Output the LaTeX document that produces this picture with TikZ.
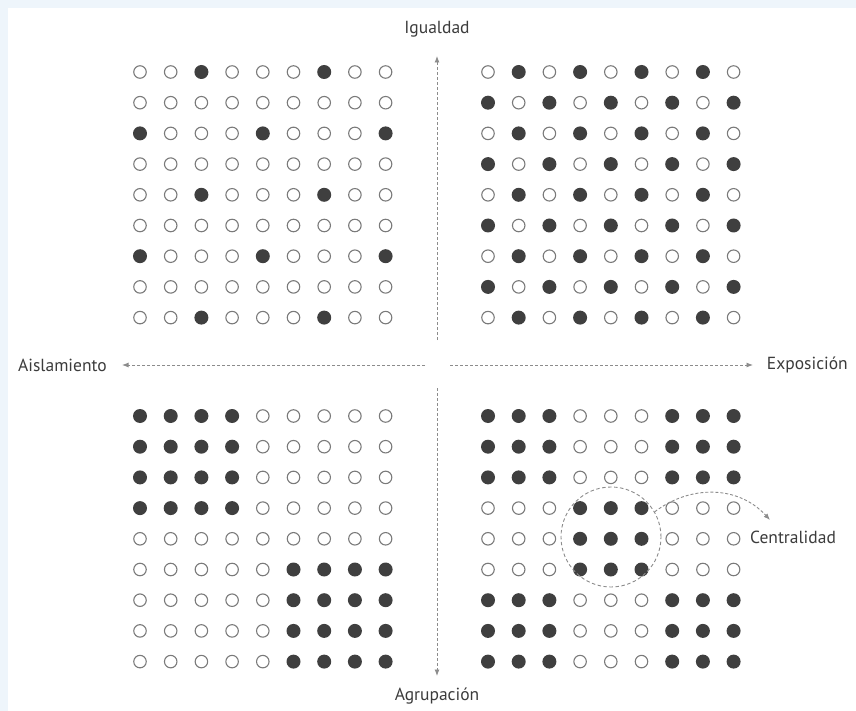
\documentclass[tikz,border=0pt]{standalone}
\usepackage{fontspec}
\setmainfont{PT Sans}
\usetikzlibrary{arrows.meta}
\definecolor{bgblue}{HTML}{EEF5FB}
\definecolor{dotdark}{HTML}{3F3F3F}
\definecolor{dotring}{HTML}{7A7A7A}
\definecolor{axisgray}{HTML}{8C8C8C}
\definecolor{txtgray}{HTML}{3C3C3C}
\tikzset{
  dot0/.style={circle, draw=dotring, line width=1.1pt, fill=white, minimum size=12.5pt, inner sep=0pt},
  dot1/.style={circle, fill=dotdark, minimum size=14pt, inner sep=0pt},
  axisline/.style={draw=axisgray, line width=0.9pt, dash pattern=on 3pt off 2pt, -{Latex[length=6.5pt,width=5pt]}},
  axislabel/.style={font=\fontsize{17.5}{20}\selectfont, text=txtgray, inner sep=0pt},
}
\newcommand\dotgrid[4]{%
  \foreach \rowlist [count=\r] in {#4} {
    \foreach \v [count=\c] in \rowlist {
      \node[dot\v] (#1-\r-\c) at ({#2+(\c-1)*30.7},{#3+(\r-1)*30.7}) {};
    }
  }
}
\begin{document}
\begin{tikzpicture}[x=1pt,y=-1pt]
\fill[bgblue] (0,0) rectangle (856,711);
\fill[white] (8,8) rectangle (856,711);
\useasboundingbox (0,0) rectangle (856,711);

% top-left: Igualdad / Aislamiento
\dotgrid{tl}{140}{72}{{0,0,1,0,0,0,1,0,0},{0,0,0,0,0,0,0,0,0},{1,0,0,0,1,0,0,0,1},{0,0,0,0,0,0,0,0,0},{0,0,1,0,0,0,1,0,0},{0,0,0,0,0,0,0,0,0},{1,0,0,0,1,0,0,0,1},{0,0,0,0,0,0,0,0,0},{0,0,1,0,0,0,1,0,0}}
% top-right: checkerboard
\dotgrid{tr}{488}{72}{{0,1,0,1,0,1,0,1,0},{1,0,1,0,1,0,1,0,1},{0,1,0,1,0,1,0,1,0},{1,0,1,0,1,0,1,0,1},{0,1,0,1,0,1,0,1,0},{1,0,1,0,1,0,1,0,1},{0,1,0,1,0,1,0,1,0},{1,0,1,0,1,0,1,0,1},{0,1,0,1,0,1,0,1,0}}
% bottom-left
\dotgrid{bl}{140}{416}{{1,1,1,1,0,0,0,0,0},{1,1,1,1,0,0,0,0,0},{1,1,1,1,0,0,0,0,0},{1,1,1,1,0,0,0,0,0},{0,0,0,0,0,0,0,0,0},{0,0,0,0,0,1,1,1,1},{0,0,0,0,0,1,1,1,1},{0,0,0,0,0,1,1,1,1},{0,0,0,0,0,1,1,1,1}}
% bottom-right
\dotgrid{br}{488}{416}{{1,1,1,0,0,0,1,1,1},{1,1,1,0,0,0,1,1,1},{1,1,1,0,0,0,1,1,1},{0,0,0,1,1,1,0,0,0},{0,0,0,1,1,1,0,0,0},{0,0,0,1,1,1,0,0,0},{1,1,1,0,0,0,1,1,1},{1,1,1,0,0,0,1,1,1},{1,1,1,0,0,0,1,1,1}}

% axis labels
\node[axislabel] (igualdad) at (437,29) {Igualdad};
\node[axislabel] (agrupacion) at (437,696) {Agrupación};
\node[axislabel, anchor=west] (aislamiento) at (18,365) {Aislamiento};
\node[axislabel, anchor=east] (exposicion) at (848,365) {Exposición};

% axis coordinates
\coordinate (cN) at (437,340);
\coordinate (cS) at (437,388);
\coordinate (cW) at (425,365);
\coordinate (cE) at (450,365);
\coordinate (tipN) at (437,56);
\coordinate (tipS) at (437,676);
\coordinate (tipW) at (122,365);
\coordinate (tipE) at (753,365);

\draw[axisline] (cN) -- (tipN);
\draw[axisline] (cS) -- (tipS);
\draw[axisline] (cW) -- (tipW);
\draw[axisline] (cE) -- (tipE);

% centralidad
\node[circle, draw=axisgray, line width=0.9pt, dash pattern=on 3.5pt off 2.5pt, minimum size=100pt, inner sep=0pt] (centro) at (611,537) {};
\node[axislabel, anchor=west] (centralidad) at (750,537) {Centralidad};
\coordinate (ctip) at (770,520);
\draw[axisline] (centro.30) .. controls (690,485) and (738,485) .. (ctip);
\end{tikzpicture}
\end{document}
